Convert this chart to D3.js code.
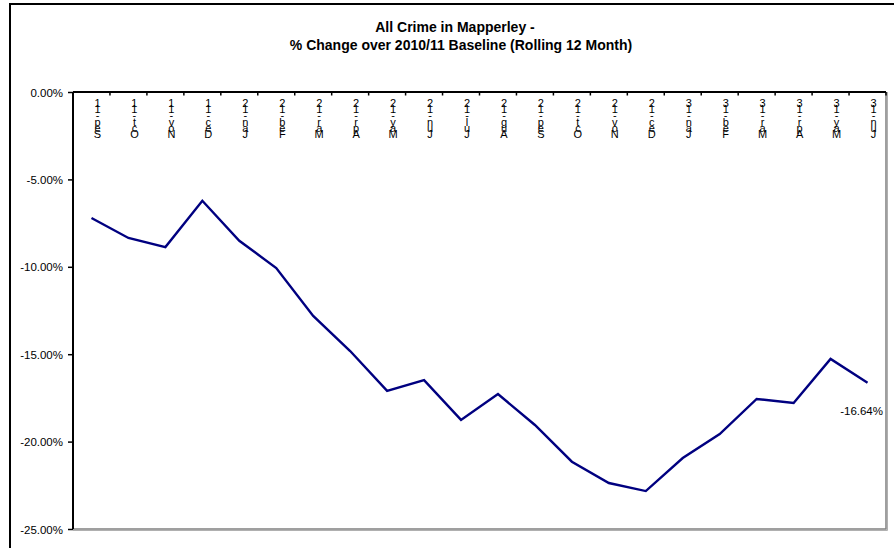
<!DOCTYPE html>
<html><head><meta charset="utf-8">
<script src="https://cdn.jsdelivr.net/npm/d3@7"></script>
<style>html,body{margin:0;padding:0;background:#fff;}svg{display:block;}</style>
</head><body>
<svg id="chart" width="894" height="548"></svg>
<script>
const categories = ["Sep-11","Oct-11","Nov-11","Dec-11","Jan-12","Feb-12","Mar-12","Apr-12","May-12","Jun-12","Jul-12","Aug-12","Sep-12","Oct-12","Nov-12","Dec-12","Jan-13","Feb-13","Mar-13","Apr-13","May-13","Jun-13"];
const values = [-7.21,-8.35,-8.87,-6.22,-8.51,-10.07,-12.81,-14.82,-17.10,-16.48,-18.76,-17.28,-19.05,-21.15,-22.37,-22.83,-20.94,-19.57,-17.56,-17.79,-15.27,-16.64];
const yTicks = [0,-5,-10,-15,-20,-25];
const titleLines = ["All Crime in Mapperley - ","% Change over 2010/11 Baseline (Rolling 12 Month)"];

const svg = d3.select("#chart");
const L = 73, R = 886, T = 92, B = 529;
const font = "'Liberation Sans', Arial, sans-serif";
const pct = d => d3.format(".2f")(d).replace("\u2212","-") + "%";

// outer chart border
svg.append("rect").attr("x",10).attr("y",4).attr("width",890).attr("height",550)
  .attr("fill","none").attr("stroke","#000").attr("stroke-width",2);

const x = d3.scaleBand().domain(categories).range([L,R]);
const y = d3.scaleLinear().domain([-25,0]).range([B,T]);

// plot border shadow (right/bottom gray)
svg.append("path").attr("d",`M${R+1.5},${T}V${B+1.5}H${L}`).attr("fill","none").attr("stroke","#b0b0b0").attr("stroke-width",1);
svg.append("path").attr("d",`M${R},${T}V${B}H${L}`).attr("fill","none").attr("stroke","#808080").attr("stroke-width",1.5);

// y axis
const yAxis = d3.axisLeft(y).tickValues(yTicks).tickSize(5).tickFormat(pct);
const gy = svg.append("g").attr("transform",`translate(${L},0)`).call(yAxis);
gy.select(".domain").attr("stroke","#000").attr("stroke-width",2).attr("d",`M0,${T}V${B}`);
gy.selectAll(".tick line").attr("stroke","#000").attr("stroke-width",1.5);
gy.selectAll(".tick text").attr("x",-10).attr("dy","0.35em").attr("font-family",font).attr("font-size","11.5px").attr("fill","#000");

// x axis at 0 (top), ticks at category boundaries pointing inward
const boundaries = categories.slice(1).map(c=>x(c)).concat([R]);
svg.append("line").attr("x1",L).attr("x2",R).attr("y1",y(0)).attr("y2",y(0)).attr("stroke","#000").attr("stroke-width",2);
svg.append("g").selectAll("line").data(boundaries).join("line")
  .attr("x1",d=>d).attr("x2",d=>d).attr("y1",y(0)).attr("y2",y(0)+3.5)
  .attr("stroke","#000").attr("stroke-width",1.5);

// stacked vertical category labels (upright characters, read bottom-to-top)
const step = 6.2;
const lab = svg.append("g");
categories.forEach(c=>{
  const cx = x(c) + x.bandwidth()/2 + 6;
  const chars = c.split("").reverse(); // top to bottom
  const n = chars.length;
  const t = lab.append("text").attr("text-anchor","middle").attr("font-family",font)
    .attr("font-size","11px").attr("fill","#000");
  chars.forEach((ch,i)=>{
    t.append("tspan").attr("x",cx).attr("y",138 - (n-1-i)*step).text(ch);
  });
});

// line
const line = d3.line().x((d,i)=>x(categories[i])+x.bandwidth()/2).y(d=>y(d));
svg.append("path").datum(values).attr("d",line).attr("fill","none")
  .attr("stroke","#000080").attr("stroke-width",2.4).attr("stroke-linejoin","miter");

// last value label
const last = values.length-1;
svg.append("text").attr("x",883).attr("y",y(values[last])+32).attr("text-anchor","end")
  .attr("font-family",font).attr("font-size","11.5px").attr("fill","#000")
  .text(pct(values[last]));

// title
svg.append("g").selectAll("text").data(titleLines).join("text")
  .attr("x",(d,i)=> i===0 ? 455 : 461).attr("y",(d,i)=>32+i*18)
  .attr("text-anchor","middle").attr("font-family",font).attr("font-weight","bold").attr("font-size","14px").attr("fill","#000")
  .text(d=>d);
</script>
</body></html>
